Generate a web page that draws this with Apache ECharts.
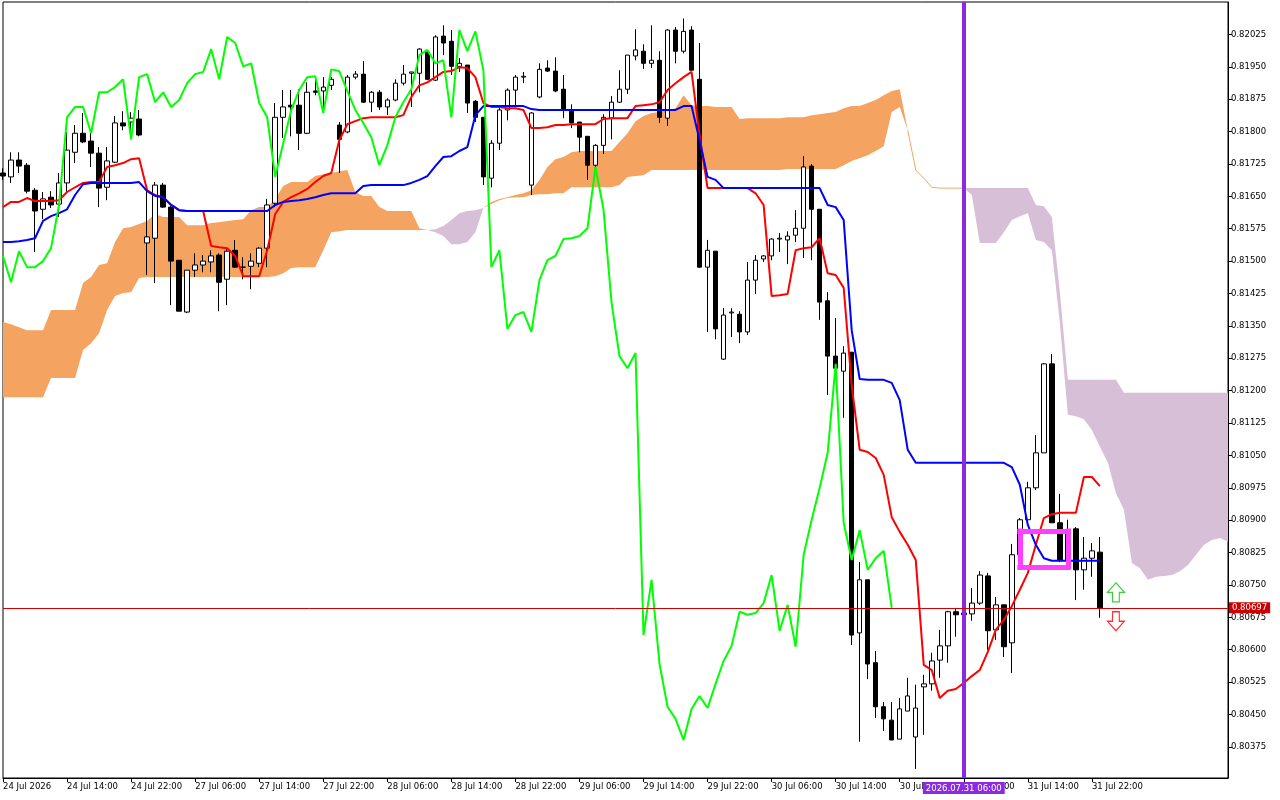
<!DOCTYPE html>
<html><head><meta charset="utf-8">
<script src="https://cdn.jsdelivr.net/npm/echarts@6/dist/echarts.min.js"></script>
<style>html,body{margin:0;padding:0;background:#fff}#c{width:1280px;height:800px}</style>
</head><body><div id="c"></div>
<script>
// ---- data (H1 candles, 24 Jul 06:00 .. 31 Jul 23:00) ----
const tickLabels = ['24 Jul 2026','24 Jul 14:00','24 Jul 22:00','27 Jul 06:00','27 Jul 14:00','27 Jul 22:00','28 Jul 06:00','28 Jul 14:00','28 Jul 22:00','29 Jul 06:00','29 Jul 14:00','29 Jul 22:00','30 Jul 06:00','30 Jul 14:00','30 Jul 22:00','31 Jul 06:00','31 Jul 14:00','31 Jul 22:00'];
const priceTicks = [0.80375,0.80450,0.80525,0.80600,0.80675,0.80750,0.80825,0.80900,0.80975,0.81050,0.81125,0.81200,0.81275,0.81350,0.81425,0.81500,0.81575,0.81650,0.81725,0.81800,0.81875,0.81950,0.82025];

const opens = [0.81704,0.81695,0.81734,0.81722,0.81664,0.81620,0.81648,0.81632,0.81681,0.81752,
0.81796,0.81778,0.81750,0.81671,0.81729,0.81820,0.81822,0.81829,0.81542,0.81553,
0.81676,0.81625,0.81502,0.81382,0.81479,0.81491,0.81498,0.81514,0.81458,0.81525,
0.81486,0.81488,0.81495,0.81530,0.81634,0.81833,0.81861,0.81861,0.81796,0.81894,
0.81894,0.81907,0.81815,0.81799,0.81926,0.81933,0.81868,0.81891,0.81857,0.81873,
0.81912,0.81935,0.81935,0.81984,0.81919,0.82021,0.82009,0.81951,0.81954,0.81870,
0.81833,0.81692,0.81773,0.81850,0.81896,0.81926,0.81676,0.81880,0.81947,0.81940,
0.81898,0.81850,0.81822,0.81789,0.81722,0.81768,0.81831,0.81868,0.81898,0.81975,
0.81986,0.81958,0.81965,0.81831,0.82035,0.81986,0.82035,0.81921,0.81486,0.81523,
0.81273,0.81380,0.81377,0.81336,0.81456,0.81505,0.81512,0.81551,0.81549,0.81560,
0.81576,0.81720,0.81620,0.81408,0.81280,0.81245,0.81289,0.80639,0.80762,0.80570,
0.80468,0.80437,0.80393,0.80458,0.80398,0.80514,0.80521,0.80576,0.80609,0.80688,
0.80681,0.80683,0.80708,0.80771,0.80646,0.80704,0.80616,0.80820,0.80901,0.80975,
0.81056,0.81262,0.80894,0.80808,0.80880,0.80785,0.80812,0.80826];
const highs = [0.81715,0.81752,0.81752,0.81727,0.81669,0.81660,0.81662,0.81704,0.81799,0.81815,
0.81843,0.81801,0.81764,0.81764,0.81836,0.81847,0.81845,0.81850,0.81676,0.81683,
0.81681,0.81627,0.81502,0.81479,0.81518,0.81514,0.81525,0.81518,0.81528,0.81549,
0.81509,0.81518,0.81532,0.81644,0.81866,0.81896,0.81896,0.81898,0.81914,0.81926,
0.81926,0.81926,0.81822,0.81931,0.81940,0.81963,0.81894,0.81896,0.81877,0.81921,
0.81954,0.81938,0.81993,0.81989,0.82023,0.82046,0.82035,0.81970,0.81954,0.81873,
0.81833,0.81780,0.81861,0.81900,0.81931,0.81938,0.81845,0.81958,0.81965,0.81972,
0.81931,0.81863,0.81822,0.81789,0.81771,0.81840,0.81882,0.81942,0.81977,0.82037,
0.82002,0.82046,0.81986,0.82037,0.82042,0.82062,0.82044,0.82005,0.81549,0.81523,
0.81391,0.81391,0.81384,0.81498,0.81514,0.81514,0.81553,0.81565,0.81569,0.81618,
0.81743,0.81725,0.81620,0.81428,0.81368,0.81303,0.81289,0.80803,0.80762,0.80597,
0.80479,0.80479,0.80488,0.80535,0.80519,0.80542,0.80593,0.80646,0.80690,0.80697,
0.80697,0.80743,0.80782,0.80778,0.80722,0.80704,0.80845,0.80905,0.80989,0.81097,
0.81264,0.81285,0.80961,0.80901,0.80884,0.80861,0.80847,0.80861];
const lows = [0.81688,0.81681,0.81704,0.81657,0.81521,0.81597,0.81623,0.81602,0.81660,0.81727,
0.81773,0.81718,0.81625,0.81641,0.81727,0.81803,0.81782,0.81789,0.81468,0.81449,
0.81623,0.81398,0.81384,0.81380,0.81463,0.81474,0.81474,0.81384,0.81398,0.81484,
0.81458,0.81435,0.81486,0.81486,0.81625,0.81785,0.81789,0.81757,0.81794,0.81884,
0.81843,0.81896,0.81704,0.81796,0.81921,0.81866,0.81845,0.81850,0.81838,0.81870,
0.81907,0.81857,0.81891,0.81919,0.81917,0.81977,0.81931,0.81938,0.81843,0.81822,
0.81676,0.81671,0.81757,0.81826,0.81861,0.81912,0.81653,0.81877,0.81938,0.81891,
0.81831,0.81808,0.81752,0.81688,0.81715,0.81748,0.81782,0.81866,0.81887,0.81965,
0.81945,0.81947,0.81820,0.81813,0.81958,0.81981,0.81942,0.81484,0.81336,0.81319,
0.81271,0.81324,0.81310,0.81329,0.81424,0.81498,0.81502,0.81521,0.81493,0.81544,
0.81507,0.81502,0.81364,0.81190,0.81250,0.81137,0.80611,0.80387,0.80532,0.80442,
0.80412,0.80391,0.80393,0.80458,0.80324,0.80403,0.80505,0.80535,0.80570,0.80630,
0.80669,0.80667,0.80704,0.80600,0.80623,0.80583,0.80546,0.80817,0.80896,0.80970,
0.81056,0.80894,0.80803,0.80803,0.80715,0.80739,0.80769,0.80674];
const closes = [0.81697,0.81734,0.81720,0.81662,0.81616,0.81644,0.81630,0.81681,0.81757,0.81796,
0.81776,0.81750,0.81669,0.81732,0.81820,0.81813,0.81831,0.81792,0.81556,0.81676,
0.81625,0.81500,0.81384,0.81479,0.81491,0.81500,0.81512,0.81451,0.81523,0.81486,
0.81486,0.81500,0.81530,0.81630,0.81833,0.81857,0.81857,0.81796,0.81891,0.81891,
0.81903,0.81921,0.81782,0.81926,0.81933,0.81868,0.81891,0.81857,0.81873,0.81912,
0.81933,0.81938,0.81991,0.81921,0.82019,0.82005,0.81951,0.81958,0.81866,0.81833,
0.81695,0.81773,0.81850,0.81896,0.81926,0.81928,0.81843,0.81944,0.81940,0.81894,
0.81850,0.81820,0.81787,0.81722,0.81768,0.81833,0.81868,0.81898,0.81977,0.81989,
0.81958,0.81965,0.81833,0.82035,0.81986,0.82032,0.81942,0.81486,0.81525,0.81343,
0.81375,0.81382,0.81336,0.81456,0.81502,0.81512,0.81551,0.81553,0.81558,0.81576,
0.81718,0.81620,0.81405,0.81280,0.81252,0.81287,0.80634,0.80762,0.80567,0.80468,
0.80440,0.80391,0.80463,0.80493,0.80465,0.80521,0.80574,0.80609,0.80688,0.80681,
0.80685,0.80708,0.80773,0.80644,0.80704,0.80607,0.80820,0.80901,0.80975,0.81056,
0.81262,0.80894,0.80808,0.80877,0.80785,0.80812,0.80829,0.80697];

const tenkan = [0.81625,0.81637,0.81637,0.81646,0.81639,0.81639,0.81639,0.81641,0.81660,0.81671,
0.81681,0.81683,0.81683,0.81718,0.81722,0.81727,0.81736,0.81738,0.81664,0.81653,
0.81648,0.81630,0.81618,0.81616,0.81616,0.81616,0.81535,0.81532,0.81530,0.81512,
0.81465,0.81465,0.81465,0.81525,0.81609,0.81637,0.81648,0.81657,0.81667,0.81683,
0.81697,0.81704,0.81780,0.81817,0.81824,0.81831,0.81833,0.81833,0.81833,0.81833,
0.81838,0.81880,0.81907,0.81914,0.81926,0.81938,0.81940,0.81949,0.81947,0.81926,
0.81866,0.81857,0.81857,0.81854,0.81854,0.81850,0.81808,0.81808,0.81810,0.81815,
0.81815,0.81817,0.81817,0.81817,0.81817,0.81829,0.81831,0.81831,0.81831,0.81859,
0.81861,0.81863,0.81868,0.81896,0.81912,0.81926,0.81938,0.81792,0.81669,0.81669,
0.81669,0.81669,0.81669,0.81669,0.81657,0.81630,0.81419,0.81421,0.81424,0.81525,
0.81530,0.81532,0.81553,0.81472,0.81468,0.81438,0.81213,0.81063,0.81058,0.81044,
0.81005,0.80907,0.80873,0.80843,0.80808,0.80565,0.80553,0.80488,0.80505,0.80509,
0.80523,0.80539,0.80553,0.80595,0.80646,0.80669,0.80701,0.80739,0.80778,0.80843,
0.80905,0.80914,0.80917,0.80917,0.80917,0.81000,0.81000,0.80979];
const kijun = [0.81544,0.81544,0.81546,0.81549,0.81553,0.81593,0.81604,0.81611,0.81620,0.81653,
0.81678,0.81681,0.81681,0.81681,0.81681,0.81681,0.81681,0.81683,0.81662,0.81651,
0.81648,0.81630,0.81618,0.81616,0.81616,0.81616,0.81616,0.81616,0.81616,0.81616,
0.81616,0.81616,0.81616,0.81616,0.81630,0.81637,0.81639,0.81641,0.81644,0.81648,
0.81653,0.81657,0.81657,0.81657,0.81657,0.81674,0.81676,0.81676,0.81676,0.81676,
0.81676,0.81681,0.81688,0.81697,0.81720,0.81741,0.81743,0.81755,0.81764,0.81838,
0.81859,0.81859,0.81859,0.81859,0.81859,0.81859,0.81852,0.81850,0.81850,0.81850,
0.81850,0.81850,0.81850,0.81850,0.81850,0.81850,0.81850,0.81850,0.81850,0.81850,
0.81850,0.81850,0.81850,0.81850,0.81850,0.81859,0.81859,0.81780,0.81695,0.81688,
0.81669,0.81669,0.81669,0.81669,0.81669,0.81669,0.81669,0.81669,0.81669,0.81669,
0.81669,0.81669,0.81669,0.81630,0.81625,0.81595,0.81340,0.81227,0.81225,0.81225,
0.81225,0.81218,0.81178,0.81063,0.81033,0.81033,0.81033,0.81033,0.81033,0.81033,
0.81033,0.81033,0.81033,0.81033,0.81033,0.81033,0.81023,0.80982,0.80889,0.80843,
0.80812,0.80806,0.80806,0.80806,0.80806,0.80806,0.80806,0.80806];
// Senkou spans as plotted (already shifted 26 bars forward), 154 bars
const spanA = [0.81359,0.81354,0.81347,0.81340,0.81340,0.81340,0.81387,0.81387,0.81387,0.81387,
0.81449,0.81463,0.81491,0.81495,0.81544,0.81576,0.81579,0.81586,0.81593,0.81609,
0.81602,0.81602,0.81602,0.81583,0.81583,0.81583,0.81588,0.81590,0.81593,0.81595,
0.81597,0.81618,0.81625,0.81625,0.81644,0.81674,0.81683,0.81683,0.81683,0.81697,
0.81701,0.81704,0.81708,0.81711,0.81660,0.81651,0.81651,0.81625,0.81616,0.81616,
0.81616,0.81616,0.81576,0.81572,0.81567,0.81558,0.81539,0.81539,0.81544,0.81567,
0.81623,0.81637,0.81644,0.81648,0.81653,0.81657,0.81664,0.81688,0.81718,0.81736,
0.81741,0.81752,0.81755,0.81755,0.81755,0.81755,0.81755,0.81776,0.81796,0.81824,
0.81836,0.81843,0.81845,0.81850,0.81854,0.81884,0.81861,0.81859,0.81859,0.81857,
0.81857,0.81857,0.81829,0.81831,0.81831,0.81831,0.81831,0.81831,0.81833,0.81833,
0.81833,0.81838,0.81840,0.81843,0.81845,0.81854,0.81859,0.81859,0.81866,0.81873,
0.81884,0.81894,0.81898,0.81803,0.81711,0.81692,0.81671,0.81669,0.81669,0.81669,
0.81669,0.81653,0.81542,0.81542,0.81542,0.81567,0.81595,0.81604,0.81611,0.81549,
0.81544,0.81525,0.81357,0.81144,0.81141,0.81134,0.81109,0.81070,0.81033,0.80963,
0.80924,0.80801,0.80789,0.80762,0.80769,0.80771,0.80773,0.80782,0.80796,0.80820,
0.80843,0.80854,0.80859,0.80850];
const spanB = [0.81185,0.81185,0.81185,0.81185,0.81185,0.81185,0.81229,0.81229,0.81229,0.81229,
0.81294,0.81310,0.81333,0.81387,0.81419,0.81426,0.81428,0.81461,0.81463,0.81463,
0.81463,0.81463,0.81463,0.81463,0.81463,0.81463,0.81463,0.81463,0.81463,0.81463,
0.81463,0.81463,0.81463,0.81463,0.81465,0.81472,0.81484,0.81486,0.81486,0.81486,
0.81525,0.81567,0.81569,0.81572,0.81572,0.81572,0.81572,0.81572,0.81572,0.81572,
0.81572,0.81572,0.81572,0.81572,0.81574,0.81581,0.81595,0.81611,0.81616,0.81618,
0.81623,0.81632,0.81641,0.81646,0.81648,0.81648,0.81653,0.81655,0.81655,0.81657,
0.81657,0.81671,0.81671,0.81671,0.81671,0.81671,0.81671,0.81676,0.81695,0.81697,
0.81699,0.81711,0.81711,0.81711,0.81711,0.81711,0.81711,0.81711,0.81711,0.81711,
0.81711,0.81711,0.81711,0.81711,0.81711,0.81711,0.81711,0.81711,0.81713,0.81713,
0.81713,0.81713,0.81713,0.81713,0.81713,0.81722,0.81732,0.81738,0.81745,0.81755,
0.81766,0.81845,0.81857,0.81803,0.81711,0.81692,0.81671,0.81669,0.81669,0.81669,
0.81669,0.81669,0.81669,0.81669,0.81669,0.81669,0.81669,0.81669,0.81669,0.81630,
0.81627,0.81602,0.81428,0.81225,0.81225,0.81225,0.81225,0.81225,0.81225,0.81225,
0.81195,0.81195,0.81195,0.81195,0.81195,0.81195,0.81195,0.81195,0.81195,0.81195,
0.81195,0.81195,0.81195,0.81195];

const lastPrice = 0.80697;
const markerBar = 120, markerLabel = '2026.07.31 06:00';
const boxStartBar = 127, boxEndBar = 133, boxHigh = 0.80875, boxLow = 0.80792;
const arrowBar = 139, upArrowPrice = 0.80733, downArrowPrice = 0.80666;
const yMin = 0.80303, yMax = 0.82100;
const CHIKOU_SHIFT = 26;

// ---- build ----
const N = spanA.length;
const cats = Array.from({length: N}, (_, i) => String(i));
const isTick = i => i % 8 === 0 && (i / 8) < tickLabels.length;
const cloudLow = spanA.map((a, i) => Math.min(a, spanB[i]));
const cloudBull = spanA.map((a, i) => Math.max(a - spanB[i], 0));
const cloudBear = spanA.map((a, i) => Math.max(spanB[i] - a, 0));
const flatSpan = spanA.map((a, i) => Math.abs(a - spanB[i]) < 1e-7 ? a : null);
const candles = opens.map((o, i) => [o, closes[i], lows[i], highs[i]]);
const chikou = cats.map((_, i) => i + CHIKOU_SHIFT < closes.length ? closes[i + CHIKOU_SHIFT] : null);
const FONT = 'DejaVu Sans';

const boxStyle = {color: '#FF40FF', width: 5, type: 'solid', cap: 'square'};
const bx0 = String(boxStartBar), bx1 = String(boxEndBar);
const boxSegments = [
  [{coord: [bx0, boxHigh]}, {coord: [bx1, boxHigh]}],
  [{coord: [bx1, boxHigh]}, {coord: [bx1, boxLow]}],
  [{coord: [bx1, boxLow]}, {coord: [bx0, boxLow]}],
  [{coord: [bx0, boxLow]}, {coord: [bx0, boxHigh]}]
].map(seg => [Object.assign({lineStyle: boxStyle, label: {show: false}}, seg[0]), seg[1]]);

const chart = echarts.init(document.getElementById('c'), null, {renderer: 'canvas', width: 1280, height: 800});
const areaSeries = (data, color) => ({
  type: 'line', data, stack: 'cloud', symbol: 'none', showSymbol: false, silent: true, z: 1,
  lineStyle: {width: 0, opacity: 0},
  areaStyle: color ? {color, opacity: 1} : undefined
});
chart.setOption({
  animation: false,
  backgroundColor: '#ffffff',
  grid: {left: 2, right: 52, top: 2, bottom: 22, show: true, borderColor: '#000', borderWidth: 1, backgroundColor: 'transparent'},
  xAxis: {
    type: 'category', data: cats, boundaryGap: false,
    axisLine: {show: true, onZero: false, lineStyle: {color: '#000', width: 1}},
    axisTick: {show: true, interval: (i) => isTick(i), length: 4, lineStyle: {color: '#000'}},
    axisLabel: {show: true, interval: (i) => isTick(i), formatter: (v, i) => isTick(i) ? tickLabels[i / 8] : '',
      align: 'left', margin: 4, color: '#000', fontSize: 8.5, fontFamily: FONT, hideOverlap: false},
    splitLine: {show: false}
  },
  yAxis: {
    type: 'value', position: 'right', min: yMin, max: yMax,
    axisLine: {show: true, lineStyle: {color: '#000'}},
    axisTick: {show: true, customValues: priceTicks, length: 4, lineStyle: {color: '#000'}},
    axisLabel: {show: true, customValues: priceTicks, formatter: v => v.toFixed(5), margin: 3, color: '#000', fontSize: 8.5, fontFamily: FONT},
    splitLine: {show: false}
  },
  series: [
    areaSeries(cloudLow, null),
    areaSeries(cloudBull, '#F4A460'),
    areaSeries(cloudBear, '#D8BFD8'),
    {type: 'line', data: flatSpan, symbol: 'none', silent: true, z: 1, lineStyle: {color: '#F4A460', width: 1}},
    {type: 'candlestick', data: candles, barWidth: 5, silent: true, z: 2,
      itemStyle: {color: '#ffffff', color0: '#000000', borderColor: '#000000', borderColor0: '#000000', borderColorDoji: '#000000', borderWidth: 1}},
    {type: 'line', data: cats.map(() => null), symbol: 'none', silent: true, z: 3,
      markLine: {silent: true, symbol: ['none', 'none'], animation: false, precision: 5, data: boxSegments}},
    {type: 'line', data: tenkan, symbol: 'none', silent: true, z: 4, lineStyle: {color: '#FF0000', width: 2}},
    {type: 'line', data: kijun, symbol: 'none', silent: true, z: 4, lineStyle: {color: '#0000FF', width: 2}},
    {type: 'line', data: chikou, symbol: 'none', silent: true, z: 4, lineStyle: {color: '#00FF00', width: 2}},
    {type: 'line', data: cats.map(() => null), symbol: 'none', silent: true, z: 5,
      markLine: {silent: true, symbol: ['none', 'none'], animation: false, precision: 5,
        data: [
          {xAxis: String(markerBar), lineStyle: {color: '#8A2BE2', width: 4, type: 'solid'},
            label: {show: true, position: 'start', formatter: markerLabel, color: '#fff', backgroundColor: '#8A2BE2',
              padding: [2, 3, 1, 3], fontSize: 8.5, fontFamily: FONT, distance: 4}},
          {yAxis: lastPrice, lineStyle: {color: '#D40000', width: 1, type: 'solid'},
            label: {show: true, position: 'end', formatter: lastPrice.toFixed(5), color: '#fff', backgroundColor: '#CC0000',
              padding: [1, 3, 1, 3], fontSize: 8.5, fontFamily: FONT, distance: 1}}
        ]},
      markPoint: {silent: true, label: {show: false},
        data: [
          {coord: [String(arrowBar), upArrowPrice], symbol: 'path://M10 0L20 10L14 10L14 20L6 20L6 10L0 10Z', symbolSize: [17, 19],
            itemStyle: {color: '#ffffff', borderColor: '#3ccf3c', borderWidth: 1.2}},
          {coord: [String(arrowBar), downArrowPrice], symbol: 'path://M6 0L14 0L14 10L20 10L10 20L0 10L6 10Z', symbolSize: [17, 19],
            itemStyle: {color: '#ffffff', borderColor: '#ff3333', borderWidth: 1.2}}
        ]}
    }
  ]
});
</script></body></html>
